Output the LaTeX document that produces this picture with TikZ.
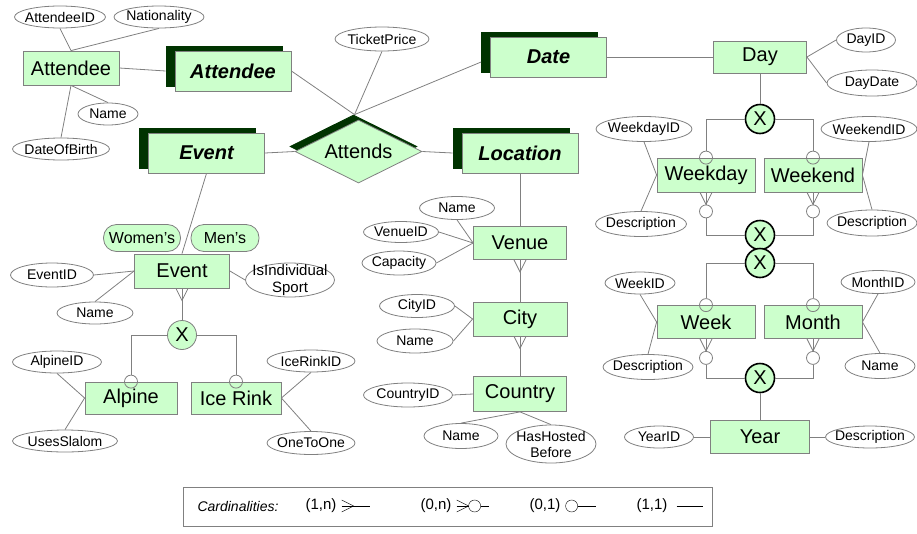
\documentclass[tikz,border=0pt]{standalone}
\usepackage{fontspec}
\setmainfont{Liberation Sans}
\usetikzlibrary{shapes.geometric,shadows}

\definecolor{boxgreen}{HTML}{CCFFCC}
\definecolor{darkgreen}{HTML}{003300}
\definecolor{edgegrey}{HTML}{808080}

\newcommand{\crowfoot}[1]{%
  \draw[conn] ([xshift=-6pt]#1.south) -- ([yshift=-12pt]#1.south) -- ([xshift=6pt]#1.south);}

\begin{document}
\begin{tikzpicture}[x=1pt,y=-1pt,
  conn/.style={draw=edgegrey,line width=0.8pt},
  entity/.style 2 args={rectangle,draw=edgegrey,line width=0.8pt,fill=boxgreen,inner sep=0pt,
    minimum width=#1,minimum height=#2,font=\fontsize{20}{24}\selectfont},
  weak/.style={rectangle,draw=edgegrey,line width=0.8pt,fill=boxgreen,minimum width=116pt,minimum height=40pt,
    font=\fontsize{20}{24}\selectfont\bfseries\itshape,
    copy shadow={shadow xshift=-9pt,shadow yshift=5pt,fill=darkgreen,draw=darkgreen}},
  rel/.style={diamond,aspect=2,draw=edgegrey,line width=0.8pt,fill=boxgreen,minimum width=127pt,minimum height=63pt,
    font=\fontsize{20}{24}\selectfont,
    copy shadow={shadow xshift=-5pt,shadow yshift=5pt,fill=darkgreen,draw=darkgreen}},
  attr/.style 2 args={ellipse,draw=edgegrey,line width=0.8pt,fill=white,inner xsep=-30pt,inner ysep=-8pt,
    minimum width=#1,minimum height=#2,font=\fontsize{14}{16}\selectfont},
  pill/.style={rectangle,rounded corners=13pt,draw=edgegrey,line width=0.8pt,fill=boxgreen,inner sep=0pt,
    minimum width=#1,minimum height=27pt,font=\fontsize{16}{19}\selectfont},
  xthick/.style={circle,draw=black,line width=1.6pt,fill=boxgreen,inner sep=0pt,minimum size=29pt,
    font=\fontsize{20}{24}\selectfont},
  xthin/.style={circle,draw=edgegrey,line width=0.8pt,fill=boxgreen,inner sep=0pt,minimum size=29pt,
    font=\fontsize{20}{24}\selectfont},
  ocirc/.style={circle,draw=edgegrey,line width=0.8pt,inner sep=0pt,minimum size=13pt},
  lab/.style={inner sep=0pt,font=\fontsize{14}{16}\selectfont}]
\useasboundingbox (0,0) rectangle (917,533);

% Attendee
\node[entity={96pt}{34pt}] (att) at (71,68) {Attendee};
\node[attr={91pt}{22pt}] (attid) at (60,17) {AttendeeID};
\node[attr={90pt}{22pt}] (nat) at (159,17) {Nationality};
\node[attr={60pt}{22pt}] (attname) at (108,114) {Name};
\node[attr={97pt}{22pt}] (dob) at (61,149) {DateOfBirth};
\draw[conn] (attid.south) -- (att.north);
\draw[conn] (nat.south) -- (att.north);
\draw[conn] (att.south) -- (attname.north);
\draw[conn] (dob.north) -- (att.south);

% Attends
\node[weak] (watt) at (233,71) {Attendee};
\node[weak] (wevt) at (206.5,153) {Event};
\node[weak] (wdate) at (548.5,57) {Date};
\node[weak] (wloc) at (520,153) {Location};
\node[rel] (attends) at (358.5,151.5) {Attends};
\node[attr={94pt}{24pt}] (price) at (382,39) {TicketPrice};
\draw[conn] (att.east) -- ([xshift=-9pt]watt.west);
\draw[conn] (watt.east) -- ([xshift=-4pt,yshift=5pt]attends.north);
\draw[conn] (price.south) -- ([xshift=-4pt,yshift=5pt]attends.north);
\draw[conn] ([xshift=-9pt,yshift=-5pt]wdate.west) -- ([xshift=-4pt,yshift=5pt]attends.north);
\draw[conn] (wevt.east) -- (attends.west);
\draw[conn] (attends.east) -- ([xshift=-9pt]wloc.west);

% Event
\node[entity={95pt}{34pt}] (evt) at (182,271) {Event};
\node[pill=77pt] (women) at (142,238) {Women’s};
\node[pill=68pt] (men) at (225,238) {Men’s};
\node[attr={83pt}{24pt}] (evtid) at (52,275) {EventID};
\node[attr={76pt}{22pt}] (evtname) at (95,313) {Name};
\node[attr={89pt}{34pt},align=center,font=\fontsize{15}{17}\selectfont] (indiv) at (290,280) {IsIndividual\\Sport};
\node[xthin] (xevt) at (182,335) {X};
\node[entity={92pt}{32pt}] (alp) at (131,398) {Alpine};
\node[entity={90pt}{32pt}] (ice) at (236,398) {Ice Rink};
\node[ocirc] (oalp) at (alp.north) {};
\node[ocirc] (oice) at (ice.north) {};
\node[attr={89pt}{22pt}] (alpid) at (57,362) {AlpineID};
\node[attr={105pt}{22pt}] (slalom) at (65,441) {UsesSlalom};
\node[attr={88pt}{22pt}] (iceid) at (311,361) {IceRinkID};
\node[attr={88pt}{23pt}] (onetoone) at (311,443) {OneToOne};
\draw[conn] (wevt.south) -- (evt.north);
\draw[conn] (evtid.east) -- (evt.west);
\draw[conn] (evtname.north) -- (evt.west);
\draw[conn] (evt.east) -- (indiv.west);
\crowfoot{evt}
\draw[conn] (evt.south) -- (xevt.north);
\draw[conn] (xevt) -| (oalp);
\draw[conn] (xevt) -| (oice);
\draw[conn] (alpid.south) -- (alp.west);
\draw[conn] (slalom.north) -- (alp.west);
\draw[conn] (iceid.south) -- (ice.east);
\draw[conn] (onetoone.north) -- (ice.east);

% Location
\node[entity={93pt}{33pt}] (venue) at (520,243) {Venue};
\node[attr={75pt}{23pt}] (venname) at (457,208) {Name};
\node[attr={75pt}{21pt}] (venid) at (401,232) {VenueID};
\node[attr={74pt}{24pt}] (cap) at (399,263) {Capacity};
\node[entity={94pt}{34pt}] (city) at (520,319) {City};
\node[attr={75pt}{23pt}] (cityid) at (417,306) {CityID};
\node[attr={76pt}{24pt}] (cityname) at (415,341) {Name};
\node[entity={93pt}{35pt}] (ctry) at (520,394) {Country};
\node[attr={89pt}{24pt}] (ctryid) at (408,395) {CountryID};
\node[attr={74pt}{25pt}] (ctryname) at (461,436) {Name};
\node[attr={90pt}{38pt},align=center] (hosted) at (551,444) {HasHosted\\Before};
\draw[conn] (wloc.south) -- (venue.north);
\draw[conn] (venue.west) -- (venname.south);
\draw[conn] (venue.west) -- (venid.east);
\draw[conn] (venue.west) -- (cap.east);
\crowfoot{venue}
\draw[conn] (venue.south) -- (city.north);
\draw[conn] (city.west) -- (cityid.east);
\draw[conn] (city.west) -- (cityname.east);
\crowfoot{city}
\draw[conn] (city.south) -- (ctry.north);
\draw[conn] (ctryid.east) -- (ctry.west);
\draw[conn] (ctry.south) -- (ctryname.north);
\draw[conn] (ctry.south) -- (hosted.north);

% Date
\node[entity={93pt}{32pt}] (day) at (760,57) {Day};
\node[attr={59pt}{24pt}] (dayid) at (866,40) {DayID};
\node[attr={90pt}{26pt}] (daydate) at (872,83) {DayDate};
\node[xthick] (xday) at (760,119) {X};
\node[entity={98pt}{34pt}] (wkday) at (706,175) {Weekday};
\node[entity={98pt}{34pt}] (wkend) at (813,175) {Weekend};
\node[ocirc] (owkdaytop) at (wkday.north) {};
\node[ocirc] (owkendtop) at (wkend.north) {};
\node[ocirc,fill=white] (owkdaybot) at ([yshift=-19pt]wkday.south) {};
\node[ocirc,fill=white] (owkendbot) at ([yshift=-19pt]wkend.south) {};
\node[attr={96pt}{25pt}] (wkdayid) at (644,129) {WeekdayID};
\node[attr={91pt}{25pt}] (wkdaydesc) at (641,224) {Description};
\node[attr={96pt}{25pt}] (wkendid) at (869,129) {WeekendID};
\node[attr={90pt}{26pt}] (wkenddesc) at (872,223) {Description};
\node[xthick] (xpart) at (760,235) {X};
\node[xthick] (xweek) at (760,263) {X};
\node[entity={98pt}{33pt}] (week) at (706,322) {Week};
\node[entity={98pt}{33pt}] (month) at (813,322) {Month};
\node[ocirc] (oweektop) at (week.north) {};
\node[ocirc] (omonthtop) at (month.north) {};
\node[ocirc,fill=white] (oweekbot) at ([yshift=-19pt]week.south) {};
\node[ocirc,fill=white] (omonthbot) at ([yshift=-19pt]month.south) {};
\node[attr={70pt}{22pt}] (weekid) at (640,283) {WeekID};
\node[attr={90pt}{25pt}] (weekdesc) at (648,367) {Description};
\node[attr={74pt}{23pt}] (monthid) at (878,282) {MonthID};
\node[attr={70pt}{25pt}] (monthname) at (880,366) {Name};
\node[xthick] (xyear) at (760,378) {X};
\node[entity={99pt}{33pt}] (year) at (760,437) {Year};
\node[attr={69pt}{22pt}] (yearid) at (659,437) {YearID};
\node[attr={89pt}{22pt}] (yeardesc) at (870,437) {Description};
\draw[conn] (wdate.east) -- (day.west);
\draw[conn] (day.east) -- (dayid.west);
\draw[conn] (day.east) -- (daydate.west);
\draw[conn] (day.south) -- (xday.north);
\draw[conn] (xday) -| (owkdaytop);
\draw[conn] (xday) -| (owkendtop);
\draw[conn] (wkdayid.south) -- (wkday.west);
\draw[conn] (wkdaydesc.north) -- (wkday.west);
\draw[conn] (wkendid.south) -- (wkend.east);
\draw[conn] (wkenddesc.north) -- (wkend.east);
\crowfoot{wkday}
\crowfoot{wkend}
\draw[conn] (wkday.south) -- (owkdaybot);
\draw[conn] (wkend.south) -- (owkendbot);
\draw[conn] (owkdaybot) |- (xpart);
\draw[conn] (owkendbot) |- (xpart);
\draw[conn] (xweek) -| (oweektop);
\draw[conn] (xweek) -| (omonthtop);
\draw[conn] (weekid.south) -- (week.west);
\draw[conn] (weekdesc.north) -- (week.west);
\draw[conn] (monthid.south) -- (month.east);
\draw[conn] (monthname.north) -- (month.east);
\crowfoot{week}
\crowfoot{month}
\draw[conn] (week.south) -- (oweekbot);
\draw[conn] (month.south) -- (omonthbot);
\draw[conn] (oweekbot) |- (xyear);
\draw[conn] (omonthbot) |- (xyear);
\draw[conn] (xyear.south) -- (year.north);
\draw[conn] (yearid.east) -- (year.west);
\draw[conn] (year.east) -- (yeardesc.west);

% legend
\node[draw=edgegrey,line width=0.8pt,minimum width=529pt,minimum height=39pt] (legend) at (447.5,506.5) {};
\node[lab,font=\fontsize{14}{16}\selectfont\itshape] (cardtitle) at (238,506) {Cardinalities:};
\node[lab,font=\fontsize{15}{17}\selectfont] (c1n) at (321,506) {(1,n)};
\node[lab,font=\fontsize{15}{17}\selectfont] (c0n) at (436,506) {(0,n)};
\node[lab,font=\fontsize{15}{17}\selectfont] (c01) at (545,506) {(0,1)};
\node[lab,font=\fontsize{15}{17}\selectfont] (c11) at (652,506) {(1,1)};
\draw (c1n.east) ++(5,-6) -- ++(12,6) -- ++(-12,6);
\draw ([xshift=5pt]c1n.east) -- ++(28,0);
\draw (c0n.east) ++(5,-6) -- ++(12,6) -- ++(-12,6);
\draw ([xshift=5pt]c0n.east) -- ++(12,0);
\draw ([xshift=23pt]c0n.east) circle (6);
\draw ([xshift=29pt]c0n.east) -- ++(8,0);
\draw ([xshift=11pt]c01.east) circle (6);
\draw ([xshift=17pt]c01.east) -- ++(18,0);
\draw ([xshift=9pt]c11.east) -- ++(26,0);
\end{tikzpicture}
\end{document}
